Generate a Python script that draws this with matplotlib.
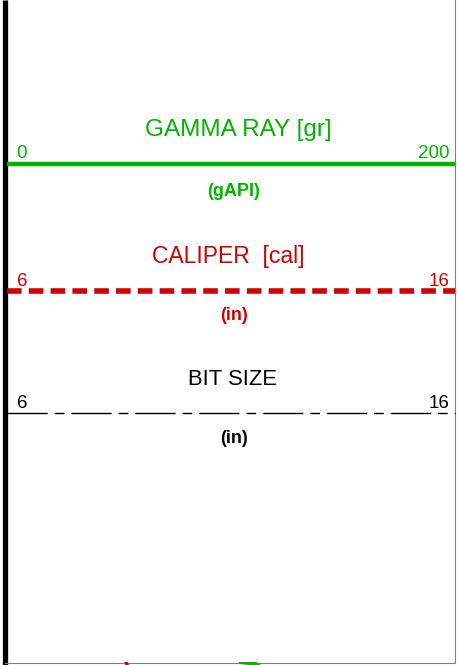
import matplotlib
matplotlib.use("Agg")
import matplotlib.pyplot as plt

plt.rcParams['font.family'] = ['Liberation Sans', 'DejaVu Sans']
plt.rcParams['lines.scale_dashes'] = False

# ---- header data ----
curve_names = ["GAMMA RAY [gr]", "CALIPER  [cal]", "BIT SIZE"]
curve_units = ["(gAPI)", "(in)", "(in)"]
scale_left = [0, 6, 6]
scale_right = [200, 16, 16]
curve_colors = ["#00b400", "#d00000", "#000000"]

# ---- top of log body (just visible at the bottom edge) ----
body_depth = [0.0, 0.5, 1.0]
gamma_top = [104.5, 110.0, 112.0]
caliper_top = [8.66, 8.67, 8.68]

W, H = 457, 665
fig = plt.figure(figsize=(W / 100, H / 100), dpi=100)
fig.patch.set_facecolor("white")

# pixel-coordinate base axes for frame & decorations
base = fig.add_axes([0, 0, 1, 1])
base.set_xlim(0, W)
base.set_ylim(H, 0)
base.axis("off")
base.plot([4.5, 4.5], [0, H], color="black", lw=3.8, solid_capstyle="butt")
base.plot([454.5, 454.5], [0, 662], color="#808080", lw=0.8)
base.plot([4.5, 454.5], [662.5, 662.5], color="#808080", lw=0.8)

track_l, track_w = 7, 448
layout_y = {"title": [136, 263, 385], "scale": [158, 286, 408],
            "line": [164, 290.5, 413], "unit": [196, 320, 443]}
line_styles = [dict(lw=3.2, ls="-"),
               dict(lw=4.0, ls=(0, (10.5, 5.2))),
               dict(lw=1.0, ls=(0, (29, 5, 7, 5)))]
title_x = [238, 228, 232]
title_size = [17.5, 16.5, 15.8]

for i in range(3):
    tr = fig.add_axes([track_l / W, 0, track_w / W, 1])
    tr.set_xlim(scale_left[i], scale_right[i])
    tr.set_ylim(H, 0)
    tr.axis("off")
    tr.patch.set_alpha(0)
    y = layout_y["line"][i]
    tr.plot([scale_left[i], scale_right[i]], [y, y], color=curve_colors[i],
            solid_capstyle="butt", dash_capstyle="butt", clip_on=False,
            **line_styles[i])
    ys = layout_y["scale"][i]
    tr.annotate(str(scale_left[i]), (scale_left[i], ys), xytext=(7, 0),
                textcoords="offset points", ha="left", va="baseline",
                color=curve_colors[i], fontsize=13.5)
    tr.annotate(str(scale_right[i]), (scale_right[i], ys), xytext=(-4, 0),
                textcoords="offset points", ha="right", va="baseline",
                color=curve_colors[i], fontsize=13.5)
    base.text(title_x[i], layout_y["title"][i], curve_names[i], ha="center",
              va="baseline", color=curve_colors[i], fontsize=title_size[i])
    base.text(234, layout_y["unit"][i], curve_units[i], ha="center",
              va="baseline", color=curve_colors[i], fontsize=13,
              fontweight="bold")

# log body top (only a few pixels visible)
body_g = fig.add_axes([track_l / W, 0, track_w / W, 3 / H])
body_g.set_xlim(scale_left[0], scale_right[0])
body_g.set_ylim(1, 0)
body_g.axis("off")
body_g.plot(gamma_top, body_depth, color=curve_colors[0], lw=3)
body_c = fig.add_axes([track_l / W, 0, track_w / W, 3 / H])
body_c.set_xlim(scale_left[1], scale_right[1])
body_c.set_ylim(1, 0)
body_c.axis("off")
body_c.patch.set_alpha(0)
body_c.plot(caliper_top, body_depth, color=curve_colors[1], lw=2.5)

fig.savefig("out.png", dpi=100, facecolor="white")
